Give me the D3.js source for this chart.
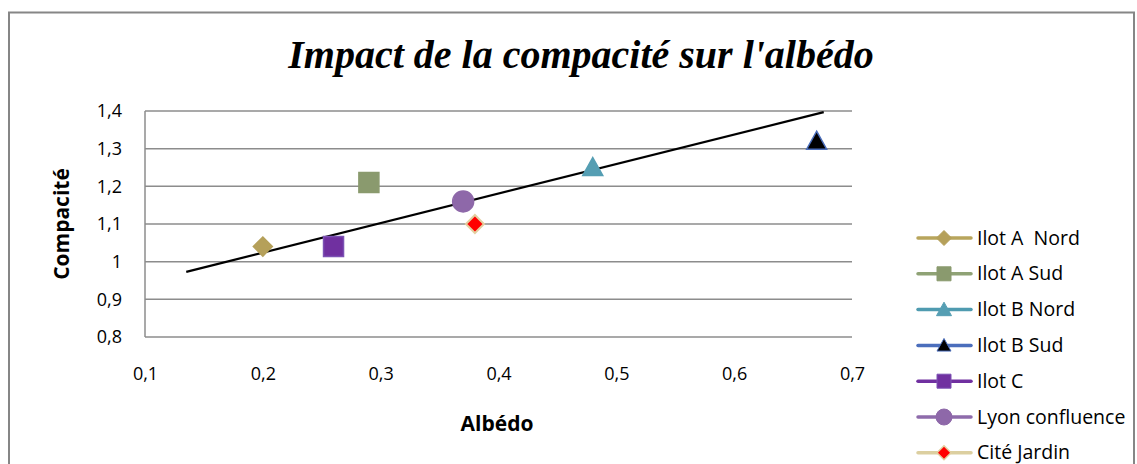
<!DOCTYPE html>
<html><head><meta charset="utf-8">
<script src="https://cdn.jsdelivr.net/npm/d3@7"></script>
<style>body{margin:0;background:#fff}svg{display:block}</style>
</head><body><svg id="c" width="1137" height="464"></svg>
<script>
const seriesNames = ["Ilot A  Nord","Ilot A Sud","Ilot B Nord","Ilot B Sud","Ilot C","Lyon confluence","Cité Jardin"];
const albedo = [0.20, 0.29, 0.48, 0.67, 0.26, 0.37, 0.38];
const compacite = [1.04, 1.21, 1.25, 1.32, 1.04, 1.16, 1.10];
const markerShapes = ["diamond","square","triangle","triangle","square","circle","diamond"];
const markerFill = ["#B5A05A","#8A9A6E","#559EB3","#000000","#7030A0","#8E68A9","#FF0000"];
const markerStroke = ["#B5A05A","#8A9A6E","#559EB3","#4A6DBA","#7C52B4","#8E68A9","#E3CFA0"];
const lineColors = ["#B8A55C","#8FA275","#4F9BB0","#4B6EBC","#7030A0","#8E6BAB","#DCCFA0"];
const trendX = [0.135, 0.676];
const trendY = [0.973, 1.397];
const xTicks = [0.1,0.2,0.3,0.4,0.5,0.6,0.7];
const yTicks = [0.8,0.9,1.0,1.1,1.2,1.3,1.4];

const svg = d3.select("#c");
const FONT = "'Open Sans','Noto Sans',sans-serif";
const fmt = v => String(+v.toFixed(1)).replace(".", ",");
svg.append("rect").attr("x",9).attr("y",12.5).attr("width",1125).attr("height",460)
  .attr("fill","#fff").attr("stroke","#868686").attr("stroke-width",2);

const x = d3.scaleLinear().domain([0.1,0.7]).range([145,852]);
const y = d3.scaleLinear().domain([0.8,1.4]).range([337,111]);

svg.append("text").attr("x",581).attr("y",68).attr("text-anchor","middle")
  .style("font-family","'Liberation Serif','DejaVu Serif',serif").style("font-style","italic").style("font-weight","bold")
  .style("font-size","40px").text("Impact de la compacité sur l'albédo");

const g = svg.append("g");
g.selectAll("line").data(yTicks).join("line")
  .attr("x1",145).attr("x2",852).attr("y1",d=>y(d)).attr("y2",d=>y(d))
  .attr("stroke","#8C8C8C").attr("stroke-width",1.5);
svg.append("line").attr("x1",145).attr("x2",145).attr("y1",y(1.4)).attr("y2",y(0.8)).attr("stroke","#8C8C8C").attr("stroke-width",1.5);

const yAxis = d3.axisLeft(y).tickValues(yTicks).tickFormat(fmt).tickSize(0).tickPadding(23);
svg.append("g").attr("transform","translate(145,0)").call(yAxis)
  .call(s=>s.select(".domain").remove())
  .selectAll("text").style("font-family",FONT).style("font-size","18px").attr("fill","#000");
const xAxis = d3.axisBottom(x).tickValues(xTicks).tickFormat(fmt).tickSize(0).tickPadding(30);
svg.append("g").attr("transform","translate(0,337)").call(xAxis)
  .call(s=>s.select(".domain").remove())
  .selectAll("text").style("font-family",FONT).style("font-size","18px").attr("fill","#000");

svg.append("text").attr("transform","translate(69,224) rotate(-90)").attr("text-anchor","middle")
  .style("font-family",FONT).style("font-weight","bold").style("font-size","21px").text("Compacité");
svg.append("text").attr("x",497).attr("y",431).attr("text-anchor","middle")
  .style("font-family",FONT).style("font-weight","bold").style("font-size","21px").text("Albédo");

function shapePath(shape, w){
  const h = w/2;
  if(shape==="diamond") return `M0,${-h}L${h},0L0,${h}L${-h},0Z`;
  if(shape==="square") return `M${-h},${-h}H${h}V${h}H${-h}Z`;
  if(shape==="triangle") { const t=w*0.9; return `M0,${-t*0.55}L${h},${t*0.45}L${-h},${t*0.45}Z`; }
  return d3.arc()({innerRadius:0,outerRadius:h,startAngle:0,endAngle:2*Math.PI});
}
const plotSize = [19,20,20,20,20,21,18];
const legendSize = [15,14,15,14,14,16,14];

svg.append("line").attr("x1",x(trendX[0])).attr("y1",y(trendY[0])).attr("x2",x(trendX[1])).attr("y2",y(trendY[1]))
  .attr("stroke","#000").attr("stroke-width",2.2);

const idx = d3.range(seriesNames.length);
svg.append("g").selectAll("path").data(idx).join("path")
  .attr("transform",i=>`translate(${x(albedo[i])},${y(compacite[i])})`)
  .attr("d",i=>shapePath(markerShapes[i], plotSize[i]))
  .attr("fill",i=>markerFill[i]).attr("stroke",i=>markerStroke[i]).attr("stroke-width",i=>i===6?2:1.5);

const lg = svg.append("g");
const rowY = i => 238 + i*35.8;
lg.selectAll("line").data(idx).join("line")
  .attr("x1",918).attr("x2",971).attr("y1",rowY).attr("y2",rowY)
  .attr("stroke",i=>lineColors[i]).attr("stroke-width",3.5).attr("stroke-linecap","round");
lg.selectAll("path").data(idx).join("path")
  .attr("transform",i=>`translate(944,${rowY(i)})`)
  .attr("d",i=>shapePath(markerShapes[i], legendSize[i]))
  .attr("fill",i=>markerFill[i]).attr("stroke",i=>markerStroke[i]).attr("stroke-width",i=>i===6?1.5:1);
lg.selectAll("text").data(idx).join("text")
  .attr("x",977).attr("y",i=>rowY(i)+6.5)
  .style("font-family",FONT).style("font-size","19.5px")
  .style("white-space","pre")
  .text(i=>seriesNames[i]);
</script></body></html>
